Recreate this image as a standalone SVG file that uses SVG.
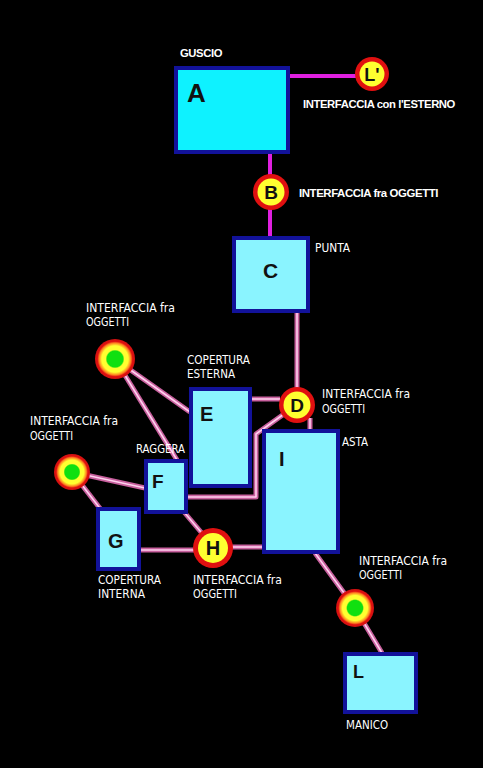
<svg xmlns="http://www.w3.org/2000/svg" width="483" height="768" viewBox="0 0 483 768">
<defs>
<radialGradient id="gg">
  <stop offset="0" stop-color="#10e010"/>
  <stop offset="0.4" stop-color="#10e010"/>
  <stop offset="0.47" stop-color="#ffff30"/>
  <stop offset="0.66" stop-color="#ffff30"/>
  <stop offset="0.8" stop-color="#ff8020"/>
  <stop offset="0.88" stop-color="#e01010"/>
  <stop offset="1" stop-color="#d01010"/>
</radialGradient>
</defs>
<style>
.bg{fill:#000}
.boxA{fill:#0ef2ff;stroke:#12129a;stroke-width:4}
.box{fill:#8af4ff;stroke:#12129a;stroke-width:4}
.mag{stroke:#e020e0;stroke-width:4;fill:none}
.po{stroke:#c8609e;stroke-width:5;fill:none;stroke-linejoin:round}
.pi{stroke:#ffd0ee;stroke-width:1.6;fill:none;stroke-linejoin:round}
.big{font-family:"Liberation Sans",Arial,sans-serif;font-weight:bold;fill:#111}
.lb1{font-family:"Liberation Sans",Arial,sans-serif;font-weight:bold;font-size:11px;fill:#fff;letter-spacing:-0.4px}
.lb2{font-family:"DejaVu Sans Condensed","DejaVu Sans",sans-serif;font-size:11.5px;fill:#fff}
.red{fill:#e01010}
.yel{fill:#ffff30}
.gc{fill:url(#gg)}
</style>
<rect class="bg" x="0" y="0" width="483" height="768"/>

<g id="connectors">
  <line class="mag" x1="288" y1="76" x2="358" y2="76"/>
  <line class="mag" x1="270" y1="152" x2="270" y2="237"/>
  <g>
    <path class="po" d="M297 312 L297 390"/>
    <path class="pi" d="M297 312 L297 390"/>
    <path class="po" d="M115 359 L190 412"/>
    <path class="pi" d="M115 359 L190 412"/>
    <path class="po" d="M115 359 L177 460"/>
    <path class="pi" d="M115 359 L177 460"/>
    <path class="po" d="M250 399 L280 399"/>
    <path class="pi" d="M250 399 L280 399"/>
    <path class="po" d="M310 418 L310 430"/>
    <path class="pi" d="M310 418 L310 430"/>
    <path class="po" d="M284 414 L256 434 L256 497 L187 497"/>
    <path class="pi" d="M284 414 L256 434 L256 497 L187 497"/>
    <path class="po" d="M72 472 L145 488"/>
    <path class="pi" d="M72 472 L145 488"/>
    <path class="po" d="M72 472 L102 511"/>
    <path class="pi" d="M72 472 L102 511"/>
    <path class="po" d="M184 512 L206 538"/>
    <path class="pi" d="M184 512 L206 538"/>
    <path class="po" d="M139 550 L195 550"/>
    <path class="pi" d="M139 550 L195 550"/>
    <path class="po" d="M231 547 L263 547"/>
    <path class="pi" d="M231 547 L263 547"/>
    <path class="po" d="M315 553 L355 608 L382 653"/>
    <path class="pi" d="M315 553 L355 608 L382 653"/>
  </g>
</g>

<g id="A">
  <rect class="boxA" x="176" y="68" width="112" height="84"/>
  <text class="big" x="187" y="102" font-size="26">A</text>
  <text class="lb1" x="180" y="57" textLength="42" lengthAdjust="spacingAndGlyphs">GUSCIO</text>
</g>

<g id="Lp">
  <circle class="red" cx="372" cy="74" r="17"/>
  <circle class="yel" cx="372" cy="74" r="12.5"/>
  <text class="big" x="372" y="81" font-size="18" text-anchor="middle">L'</text>
  <text class="lb1" x="303" y="108" textLength="152" lengthAdjust="spacingAndGlyphs">INTERFACCIA con l'ESTERNO</text>
</g>

<g id="B">
  <circle class="red" cx="271" cy="192" r="18"/>
  <circle class="yel" cx="271" cy="192" r="13.5"/>
  <text class="big" x="271" y="199" font-size="19" text-anchor="middle">B</text>
  <text class="lb1" x="299" y="197" textLength="139" lengthAdjust="spacingAndGlyphs">INTERFACCIA fra OGGETTI</text>
</g>

<g id="C">
  <rect class="box" x="234" y="238" width="74" height="73"/>
  <text class="big" x="263" y="278" font-size="21">C</text>
  <text class="lb2" x="315" y="252" textLength="35" lengthAdjust="spacingAndGlyphs">PUNTA</text>
</g>

<g id="IF1">
  <circle class="gc" cx="115" cy="359" r="20"/>
  <text class="lb2" x="86" y="312" textLength="89" lengthAdjust="spacingAndGlyphs">INTERFACCIA fra</text>
  <text class="lb2" x="86" y="326" textLength="43" lengthAdjust="spacingAndGlyphs">OGGETTI</text>
</g>

<g id="E">
  <rect class="box" x="191" y="389" width="59" height="97"/>
  <text class="big" x="200" y="421" font-size="20">E</text>
  <text class="lb2" x="187" y="364" textLength="63" lengthAdjust="spacingAndGlyphs">COPERTURA</text>
  <text class="lb2" x="187" y="378" textLength="48" lengthAdjust="spacingAndGlyphs">ESTERNA</text>
</g>

<g id="D">
  <circle class="red" cx="297" cy="405" r="18"/>
  <circle class="yel" cx="297" cy="405" r="13.5"/>
  <text class="big" x="297" y="412" font-size="19" text-anchor="middle">D</text>
  <text class="lb2" x="322" y="398" textLength="88" lengthAdjust="spacingAndGlyphs">INTERFACCIA fra</text>
  <text class="lb2" x="322" y="413" textLength="43" lengthAdjust="spacingAndGlyphs">OGGETTI</text>
</g>

<g id="I">
  <rect class="box" x="264" y="431" width="74" height="121"/>
  <text class="big" x="279" y="466" font-size="20">I</text>
  <text class="lb2" x="342" y="446" textLength="26" lengthAdjust="spacingAndGlyphs">ASTA</text>
</g>

<g id="IF2">
  <circle class="gc" cx="72" cy="472" r="18"/>
  <text class="lb2" x="30" y="425" textLength="88" lengthAdjust="spacingAndGlyphs">INTERFACCIA fra</text>
  <text class="lb2" x="30" y="440" textLength="43" lengthAdjust="spacingAndGlyphs">OGGETTI</text>
</g>

<g id="F">
  <rect class="box" x="146" y="461" width="40" height="51"/>
  <text class="big" x="152" y="488" font-size="19">F</text>
  <text class="lb2" x="136" y="453" textLength="49" lengthAdjust="spacingAndGlyphs">RAGGERA</text>
</g>

<g id="G">
  <rect class="box" x="98" y="509" width="41" height="60"/>
  <text class="big" x="108" y="548" font-size="20">G</text>
  <text class="lb2" x="98" y="584" textLength="63" lengthAdjust="spacingAndGlyphs">COPERTURA</text>
  <text class="lb2" x="98" y="598" textLength="47" lengthAdjust="spacingAndGlyphs">INTERNA</text>
</g>

<g id="H">
  <circle class="red" cx="213" cy="548" r="20"/>
  <circle class="yel" cx="213" cy="548" r="15"/>
  <text class="big" x="213" y="555" font-size="20" text-anchor="middle">H</text>
  <text class="lb2" x="193" y="584" textLength="89" lengthAdjust="spacingAndGlyphs">INTERFACCIA fra</text>
  <text class="lb2" x="193" y="598" textLength="44" lengthAdjust="spacingAndGlyphs">OGGETTI</text>
</g>

<g id="IF3">
  <circle class="gc" cx="355" cy="608" r="19"/>
  <text class="lb2" x="359" y="565" textLength="88" lengthAdjust="spacingAndGlyphs">INTERFACCIA fra</text>
  <text class="lb2" x="359" y="579" textLength="43" lengthAdjust="spacingAndGlyphs">OGGETTI</text>
</g>

<g id="L">
  <rect class="box" x="345" y="654" width="71" height="58"/>
  <text class="big" x="353" y="678" font-size="18">L</text>
  <text class="lb2" x="346" y="729" textLength="42" lengthAdjust="spacingAndGlyphs">MANICO</text>
</g>
</svg>
